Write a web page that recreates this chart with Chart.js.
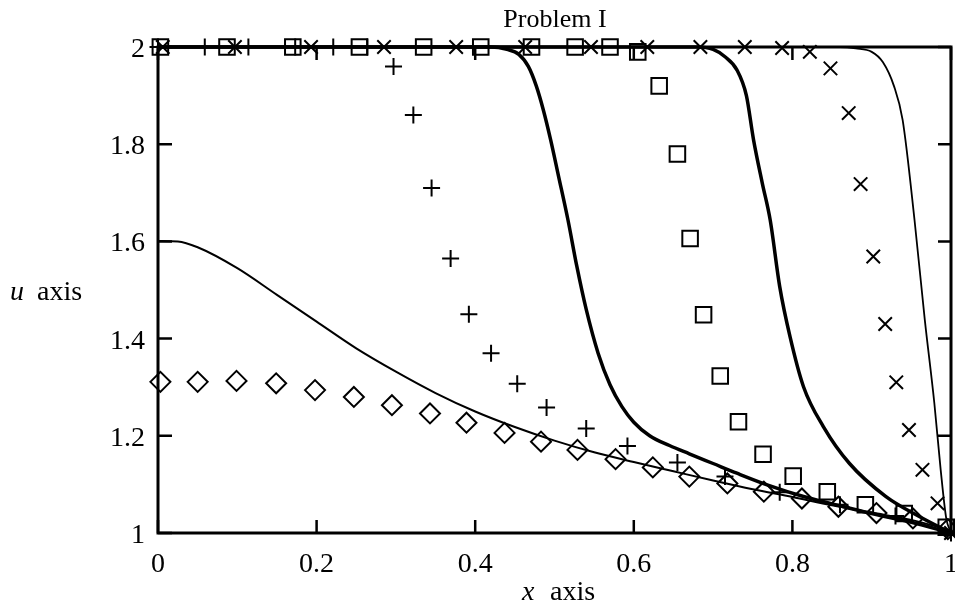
<!DOCTYPE html>
<html>
<head>
<meta charset="utf-8">
<title>Problem I</title>
<script src="https://cdn.jsdelivr.net/npm/chart.js@4.4.1/dist/chart.umd.min.js"></script>
<style>
  html, body { margin: 0; padding: 0; background: #fff; overflow: hidden; }
  #wrap { position: relative; width: 955px; height: 609px; }
  #problemChart { display: block; }
</style>
</head>
<body>
<div id="wrap"><canvas id="problemChart" width="955" height="609"></canvas></div>
<script>
// axis ticks
const xTicks = [0, 0.2, 0.4, 0.6, 0.8, 1];
const xTickLabels = ['0', '0.2', '0.4', '0.6', '0.8', '1'];
const yTicks = [1, 1.2, 1.4, 1.6, 1.8, 2];
const yTickLabels = ['1', '1.2', '1.4', '1.6', '1.8', '2'];

// thin solid curve starting at 1.6
const curveAX = [0, 0.025, 0.05, 0.1, 0.15, 0.2, 0.25, 0.3, 0.35, 0.4, 0.45, 0.5, 0.55, 0.6, 0.65, 0.7, 0.75, 0.8, 0.85, 0.9, 0.95, 1.0];
const curveAY = [1.601, 1.600, 1.588, 1.545, 1.490, 1.435, 1.380, 1.332, 1.288, 1.250, 1.218, 1.190, 1.166, 1.146, 1.127, 1.108, 1.090, 1.074, 1.057, 1.042, 1.027, 1.005];

// thick front near x = 0.5
const curveBX = [0, 0.42, 0.44, 0.455, 0.467, 0.477, 0.486, 0.495, 0.505, 0.517, 0.528, 0.54, 0.555, 0.57, 0.585, 0.60, 0.62, 0.645, 0.67, 0.70, 0.73, 0.77, 0.814, 0.85, 0.897, 0.95, 1.0];
const curveBY = [2, 2, 1.995, 1.985, 1.96, 1.92, 1.87, 1.81, 1.735, 1.644, 1.55, 1.46, 1.37, 1.305, 1.26, 1.228, 1.200, 1.180, 1.163, 1.143, 1.123, 1.098, 1.075, 1.06, 1.041, 1.022, 1.0];

// thick front near x = 0.78
const curveCX = [0, 0.68, 0.70, 0.715, 0.73, 0.742, 0.751, 0.762, 0.772, 0.784, 0.797, 0.814, 0.839, 0.872, 0.918, 0.96, 1.0];
const curveCY = [2, 2, 1.995, 1.98, 1.953, 1.90, 1.809, 1.72, 1.644, 1.507, 1.404, 1.301, 1.219, 1.143, 1.075, 1.034, 1.0];

// thin front near x = 0.96
const curveDX = [0, 0.86, 0.88, 0.90, 0.914, 0.928, 0.939, 0.954, 0.967, 0.979, 0.987, 0.994, 1.0];
const curveDY = [2, 2, 1.997, 1.99, 1.969, 1.92, 1.85, 1.644, 1.438, 1.267, 1.130, 1.03, 1.0];

// marker series
const plusX = [0, 0.059, 0.114, 0.173, 0.221, 0.264, 0.297, 0.322, 0.345, 0.369, 0.392, 0.420, 0.453, 0.490, 0.540, 0.592, 0.655, 0.715, 0.784, 0.86, 0.93, 1.0];
const plusY = [2, 2, 2, 2, 2, 2, 1.96, 1.86, 1.71, 1.565, 1.45, 1.37, 1.307, 1.258, 1.215, 1.179, 1.145, 1.116, 1.084, 1.058, 1.035, 1.0];

const squareX = [0.003, 0.087, 0.170, 0.254, 0.335, 0.407, 0.471, 0.526, 0.570, 0.605, 0.632, 0.655, 0.671, 0.688, 0.709, 0.732, 0.763, 0.801, 0.844, 0.892, 0.941, 0.994];
const squareY = [2, 2, 2, 2, 2, 2, 2, 2, 2, 1.99, 1.92, 1.78, 1.606, 1.449, 1.323, 1.229, 1.162, 1.117, 1.085, 1.058, 1.040, 1.012];

const crossX = [0.006, 0.097, 0.193, 0.285, 0.376, 0.463, 0.546, 0.617, 0.684, 0.740, 0.787, 0.822, 0.848, 0.871, 0.886, 0.902, 0.917, 0.931, 0.947, 0.964, 0.983, 1.0];
const crossY = [2, 2, 2, 2, 2, 2, 2, 2, 2, 2, 1.998, 1.99, 1.956, 1.864, 1.718, 1.569, 1.430, 1.310, 1.212, 1.130, 1.061, 1.0];

const diamondX = [0.003, 0.05, 0.099, 0.149, 0.198, 0.247, 0.295, 0.343, 0.389, 0.437, 0.483, 0.529, 0.577, 0.624, 0.670, 0.718, 0.764, 0.812, 0.858, 0.906, 0.952, 0.996];
const diamondY = [1.311, 1.311, 1.313, 1.308, 1.294, 1.280, 1.263, 1.246, 1.227, 1.206, 1.188, 1.171, 1.152, 1.135, 1.116, 1.102, 1.085, 1.071, 1.054, 1.041, 1.030, 1.008];

const pts = (xs, ys) => xs.map((v, i) => ({ x: v, y: ys[i] }));

const serif = '"Liberation Serif", "Times New Roman", serif';

function curve(xs, ys, width) {
  return {
    data: pts(xs, ys),
    showLine: true,
    borderColor: '#000',
    borderWidth: width,
    pointRadius: 0,
    cubicInterpolationMode: 'monotone',
    fill: false,
    clip: false
  };
}

function markers(xs, ys, style, radius) {
  return {
    data: pts(xs, ys),
    showLine: false,
    pointStyle: style,
    pointRadius: radius,
    pointBorderWidth: 2,
    pointBorderColor: '#000',
    pointBackgroundColor: 'rgba(0,0,0,0)',
    clip: false
  };
}

// box, inward ticks, tick labels and titles
const frameAndText = {
  id: 'frameAndText',
  afterDraw(chart) {
    const { ctx, chartArea: a, scales: { x, y } } = chart;
    ctx.save();
    ctx.strokeStyle = '#000';
    ctx.lineWidth = 3;
    ctx.strokeRect(a.left, a.top, a.right - a.left, a.bottom - a.top);

    ctx.lineWidth = 2.5;
    ctx.beginPath();
    xTicks.forEach(v => {
      const px = x.getPixelForValue(v);
      ctx.moveTo(px, a.bottom); ctx.lineTo(px, a.bottom - 13);
      ctx.moveTo(px, a.top); ctx.lineTo(px, a.top + 13);
    });
    yTicks.forEach(v => {
      const py = y.getPixelForValue(v);
      ctx.moveTo(a.left, py); ctx.lineTo(a.left + 14, py);
      ctx.moveTo(a.right, py); ctx.lineTo(a.right - 13, py);
    });
    ctx.stroke();

    ctx.fillStyle = '#000';
    ctx.font = '28px ' + serif;
    ctx.textBaseline = 'alphabetic';
    ctx.textAlign = 'center';
    xTicks.forEach((v, i) => ctx.fillText(xTickLabels[i], x.getPixelForValue(v), 572));
    ctx.textAlign = 'right';
    yTicks.forEach((v, i) => ctx.fillText(yTickLabels[i], 145, y.getPixelForValue(v) + 10));

    ctx.textAlign = 'center';
    ctx.font = '26px ' + serif;
    ctx.fillText('Problem I', 555, 27);

    ctx.textAlign = 'left';
    ctx.font = 'italic 28px ' + serif;
    ctx.fillText('u', 10, 300);
    ctx.fillText('x', 522, 600);
    ctx.font = '28px ' + serif;
    ctx.fillText('axis', 37, 300);
    ctx.fillText('axis', 550, 600);
    ctx.restore();
  }
};

new Chart(document.getElementById('problemChart'), {
  type: 'scatter',
  data: {
    datasets: [
      curve(curveAX, curveAY, 2),
      curve(curveBX, curveBY, 3.5),
      curve(curveCX, curveCY, 3.5),
      curve(curveDX, curveDY, 1.8),
      markers(diamondX, diamondY, 'rectRot', 10),
      markers(plusX, plusY, 'cross', 8.5),
      markers(squareX, squareY, 'rect', 11),
      markers(crossX, crossY, 'crossRot', 9.5)
    ]
  },
  options: {
    responsive: false,
    animation: false,
    layout: { autoPadding: false, padding: { left: 158, right: 4, top: 47, bottom: 76 } },
    plugins: { legend: { display: false }, tooltip: { enabled: false } },
    scales: {
      x: { type: 'linear', min: 0, max: 1, display: false },
      y: { type: 'linear', min: 1, max: 2, display: false }
    }
  },
  plugins: [frameAndText]
});
</script>
</body>
</html>
